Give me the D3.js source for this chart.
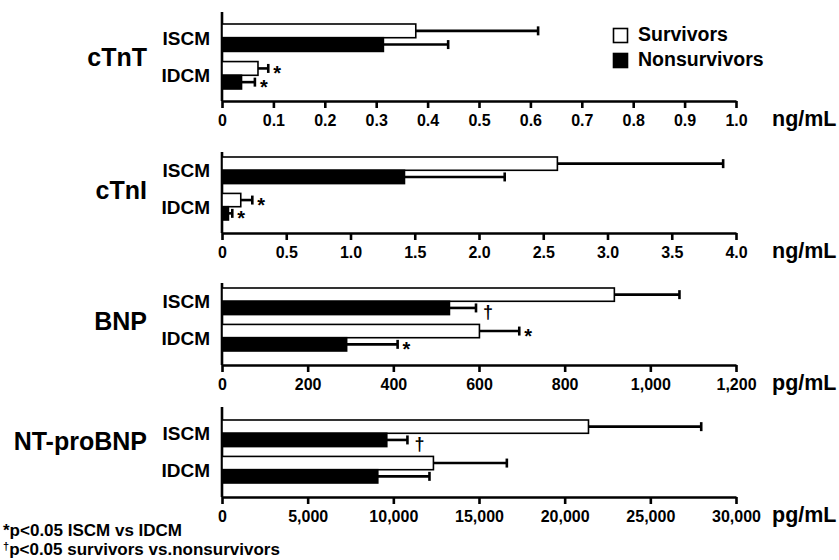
<html><head>
<script src="https://d3js.org/d3.v7.min.js"></script>
<style>
  body { margin: 0; background: #fff; }
  text { font-family: "Liberation Sans", Arial, sans-serif; }
</style>
</head>
<body>
<script>
  // data
  var markers = ["cTnT", "cTnI", "BNP", "NT-proBNP"];
  var units = ["ng/mL", "ng/mL", "pg/mL", "pg/mL"];
  var categories = ["ISCM", "IDCM"];
  var seriesNames = ["Survivors", "Nonsurvivors"];

  var axisMax = [1.0, 4.0, 1200, 30000];
  var tickValues = [
    [0, 0.1, 0.2, 0.3, 0.4, 0.5, 0.6, 0.7, 0.8, 0.9, 1.0],
    [0, 0.5, 1.0, 1.5, 2.0, 2.5, 3.0, 3.5, 4.0],
    [0, 200, 400, 600, 800, 1000, 1200],
    [0, 5000, 10000, 15000, 20000, 25000, 30000]
  ];
  var tickLabels = [
    ["0", "0.1", "0.2", "0.3", "0.4", "0.5", "0.6", "0.7", "0.8", "0.9", "1.0"],
    ["0", "0.5", "1.0", "1.5", "2.0", "2.5", "3.0", "3.5", "4.0"],
    ["0", "200", "400", "600", "800", "1,000", "1,200"],
    ["0", "5,000", "10,000", "15,000", "20,000", "25,000", "30,000"]
  ];

  // [marker][ISCM, IDCM]
  var survivorsMean = [[0.377, 0.070], [2.61, 0.146], [916, 601], [21390, 12340]];
  var survivorsErr = [[0.238, 0.020], [1.29, 0.090], [152, 93], [6580, 4285]];
  var nonsurvivorsMean = [[0.314, 0.038], [1.42, 0.050], [531, 291], [9618, 9093]];
  var nonsurvivorsErr = [[0.126, 0.026], [0.78, 0.030], [62, 119], [1205, 3016]];
  var survivorsSig = [["", "*"], ["", "*"], ["", "*"], ["", ""]];
  var nonsurvivorsSig = [["", "*"], ["", "*"], ["\u2020", "*"], ["\u2020", ""]];

  var footnotes = ["*p<0.05 ISCM vs IDCM", "p<0.05 survivors vs.nonsurvivors"];

  var width = 839, height = 560;
  var svg = d3.select("body").append("svg").attr("width", width).attr("height", height);

  var x0 = 222, x1 = 736;
  // layout of each panel: top of y axis, band range, x axis position, title centre
  var panels = [
    { top: 12, b0: 24, b1: 89, axisY: 101, titleY: 57 },
    { top: 152, b0: 157, b1: 220, axisY: 233, titleY: 190 },
    { top: 283, b0: 288, b1: 351, axisY: 365, titleY: 321 },
    { top: 407, b0: 420, b1: 483, axisY: 497, titleY: 441 }
  ];

  markers.forEach(function(m, i) {
    var p = panels[i];
    var xScale = d3.scaleLinear().domain([0, axisMax[i]]).range([x0, x1]);
    var yScale = d3.scaleBand().domain(categories).range([p.b0, p.b1]).paddingInner(0.27);
    var sub = d3.scaleBand().domain(seriesNames).range([0, yScale.bandwidth()]);

    var xAxis = d3.axisBottom(xScale).tickValues(tickValues[i])
      .tickFormat(function(d, j) { return tickLabels[i][j]; })
      .tickSize(7).tickSizeOuter(0);
    var gx = svg.append("g").attr("transform", "translate(0," + p.axisY + ")").call(xAxis);
    gx.select(".domain").attr("stroke-width", 2.6);
    gx.selectAll(".tick line").attr("stroke-width", 2.6);
    gx.selectAll(".tick text").attr("y", 14).attr("dy", "0.71em")
      .style("font-size", "16px").style("font-weight", "bold").style("font-family", "Liberation Sans, Arial, sans-serif");

    svg.append("line").attr("x1", x0).attr("x2", x0).attr("y1", p.top).attr("y2", p.axisY)
      .attr("stroke", "black").attr("stroke-width", 2.6);

    svg.append("text").attr("x", 772).attr("y", p.axisY + 25).text(units[i])
      .style("font-size", "21.5px").style("font-weight", "bold");

    svg.append("text").attr("x", 147).attr("y", p.titleY).attr("dy", "0.36em")
      .attr("text-anchor", "end").text(m)
      .style("font-size", "25px").style("font-weight", "bold");

    categories.forEach(function(c, k) {
      svg.append("text").attr("x", 210).attr("y", yScale(c) + yScale.bandwidth() / 2)
        .attr("dy", "0.36em").attr("text-anchor", "end").text(c)
        .style("font-size", "19px").style("font-weight", "bold");

      var rows = [
        { s: "Survivors", mean: survivorsMean[i][k], err: survivorsErr[i][k], sig: survivorsSig[i][k], fill: "white" },
        { s: "Nonsurvivors", mean: nonsurvivorsMean[i][k], err: nonsurvivorsErr[i][k], sig: nonsurvivorsSig[i][k], fill: "black" }
      ];
      rows.forEach(function(r) {
        var y = yScale(c) + sub(r.s);
        var h = sub.bandwidth();
        var cy = y + h / 2;
        var xe = xScale(r.mean + r.err);
        svg.append("line").attr("x1", xScale(r.mean)).attr("x2", xe).attr("y1", cy).attr("y2", cy)
          .attr("stroke", "black").attr("stroke-width", 2.6);
        svg.append("line").attr("x1", xe).attr("x2", xe).attr("y1", cy - 4.5).attr("y2", cy + 4.5)
          .attr("stroke", "black").attr("stroke-width", 2.6);
        svg.append("rect").attr("x", x0).attr("y", y).attr("width", xScale(r.mean) - x0).attr("height", h)
          .attr("fill", r.fill).attr("stroke", "black").attr("stroke-width", 1.6);
        if (r.sig == "*") {
          svg.append("text").attr("x", xe + 5).attr("y", cy + 12).text("*")
            .style("font-size", "20px").style("font-weight", "bold");
        } else if (r.sig != "") {
          svg.append("text").attr("x", xe + 7).attr("y", cy + 10).text(r.sig)
            .style("font-size", "18px").style("font-weight", "bold");
        }
      });
    });
  });

  // legend
  seriesNames.forEach(function(s, i) {
    svg.append("rect").attr("x", 613.5).attr("y", 28.5 + i * 25).attr("width", 14).attr("height", 14)
      .attr("fill", i == 0 ? "white" : "black").attr("stroke", "black").attr("stroke-width", 1.6);
    svg.append("text").attr("x", 638).attr("y", 41 + i * 25).text(s)
      .style("font-size", "19.5px").style("font-weight", "bold");
  });

  // footnotes
  svg.append("text").attr("x", 3).attr("y", 536).text(footnotes[0])
    .style("font-size", "17px").style("font-weight", "bold");
  var fn = svg.append("text").attr("x", 3).attr("y", 555).style("font-weight", "bold");
  fn.append("tspan").attr("dy", -5).style("font-size", "11px").text("\u2020");
  fn.append("tspan").attr("dy", 5).style("font-size", "17px").text(footnotes[1]);
</script>
</body>
</html>
